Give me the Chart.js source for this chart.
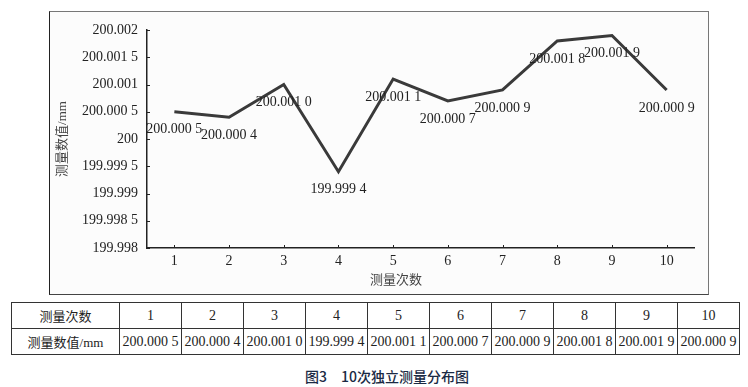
<!DOCTYPE html>
<html>
<head>
<meta charset="utf-8">
<script src="https://cdn.jsdelivr.net/npm/chart.js@4"></script>
<style>
  body { margin: 0; width: 748px; height: 387px; background: #fff; position: relative; overflow: hidden; }
  #box { position: absolute; left: 49px; top: 11px; width: 658px; height: 282px;
         border: 1px solid #777; border-left-color: #222; border-bottom-color: #444; background: #fcfcfc; }
  #tbl { position: absolute; left: 11px; top: 302px; border-collapse: collapse;
         font-family: "Liberation Serif", "Noto Sans CJK SC", serif; font-size: 14px; color: #222; }
  #tbl td { border: 1px solid #333; text-align: center; padding: 0; height: 25px; width: 61px; white-space: nowrap; }
  #tbl td:first-child { width: 107px; font-size: 13px; }
  #cap { position: absolute; left: 0; width: 774px; top: 366px; text-align: center;
         font-family: "Noto Sans CJK SC", sans-serif; font-size: 14px; font-weight: 500; color: #1a2a44; }
</style>
</head>
<body>
<div id="box"><canvas id="myChart"></canvas></div>
<table id="tbl"></table>
<div id="cap">图3　10次独立测量分布图</div>
<script>
const runs = ["1", "2", "3", "4", "5", "6", "7", "8", "9", "10"];
const values = [200.0005, 200.0004, 200.0010, 199.9994, 200.0011, 200.0007, 200.0009, 200.0018, 200.0019, 200.0009];
const yMin = 199.998;
const yMax = 200.002;
const yStep = 0.0005;

const serif = '"Liberation Serif", "Noto Sans CJK SC", serif';

// "200.0005" -> "200.000 5"
function fmtValue(v) {
  const s = v.toFixed(4);
  return s.slice(0, -1) + " " + s.slice(-1);
}
function fmtTick(v) {
  let s = v.toFixed(4).replace(/0+$/, "").replace(/\.$/, "");
  const parts = s.split(".");
  if (parts[1] && parts[1].length > 3) s = parts[0] + "." + parts[1].slice(0, 3) + " " + parts[1].slice(3);
  return s;
}

// table under the chart
const tbl = document.getElementById("tbl");
let row1 = "<tr><td>测量次数</td>" + runs.map((r) => "<td>" + r + "</td>").join("") + "</tr>";
let row2 = "<tr><td>测量数值/mm</td>" + values.map((v) => "<td>" + fmtValue(v) + "</td>").join("") + "</tr>";
tbl.innerHTML = row1 + row2;

const extras = {
  id: "extras",
  afterDatasetsDraw(chart) {
    const c = chart.ctx;
    const xs = chart.scales.x;
    const ys = chart.scales.y;
    const area = chart.chartArea;
    c.save();
    // inward tick marks
    c.strokeStyle = "#222";
    c.lineWidth = 1;
    c.beginPath();
    xs.ticks.forEach((t, i) => {
      const px = Math.round(xs.getPixelForTick(i)) + 0.5;
      c.moveTo(px, area.bottom);
      c.lineTo(px, area.bottom - 3);
    });
    ys.ticks.forEach((t, i) => {
      const py = Math.round(ys.getPixelForTick(i)) + 0.5;
      c.moveTo(area.left, py);
      c.lineTo(area.left + 3, py);
    });
    c.stroke();
    // value labels below points
    c.fillStyle = "#222";
    c.font = "14px " + serif;
    c.textAlign = "center";
    c.textBaseline = "middle";
    const meta = chart.getDatasetMeta(0);
    meta.data.forEach((pt, i) => {
      c.fillText(fmtValue(values[i]), pt.x, pt.y + 18);
    });
    // x axis title
    c.font = "13px " + serif;
    c.fillStyle = "#444";
    c.fillText("测量次数", 346, 269);
    c.restore();
  },
};

const ctx = document.getElementById("myChart").getContext("2d");

const config = {
  type: "line",
  data: {
    labels: runs,
    datasets: [
      {
        data: values,
        borderColor: "#3a3a3a",
        borderWidth: 3,
        pointRadius: 0,
        fill: false,
        tension: 0,
      },
    ],
  },
  options: {
    responsive: false,
    animation: false,
    layout: { padding: { top: 18, right: 14, left: 0, bottom: 0 } },
    plugins: { legend: { display: false }, tooltip: { enabled: false } },
    scales: {
      x: {
        offset: true,
        grid: { display: false, drawTicks: false },
        border: { color: "#222", width: 1.5 },
        ticks: { color: "#222", font: { family: serif, size: 14 }, padding: 5, maxRotation: 0 },
        afterFit: (s) => { s.height = 46; },
      },
      y: {
        min: yMin,
        max: yMax,
        grid: { display: false, drawTicks: false },
        border: { color: "#222", width: 1.5 },
        ticks: {
          stepSize: yStep,
          color: "#222",
          padding: 9,
          font: { family: serif, size: 14 },
          callback: (v) => fmtTick(v),
        },
        title: {
          display: true,
          text: "测量数值/mm",
          color: "#444",
          font: { family: serif, size: 13 },
          padding: { top: 5, bottom: 0 },
        },
        afterFit: (s) => { s.width = 97; },
      },
    },
  },
  plugins: [extras],
};

const canvas = document.getElementById("myChart");
canvas.width = 658;
canvas.height = 282;
const myChart = new Chart(ctx, config);
</script>
</body>
</html>
